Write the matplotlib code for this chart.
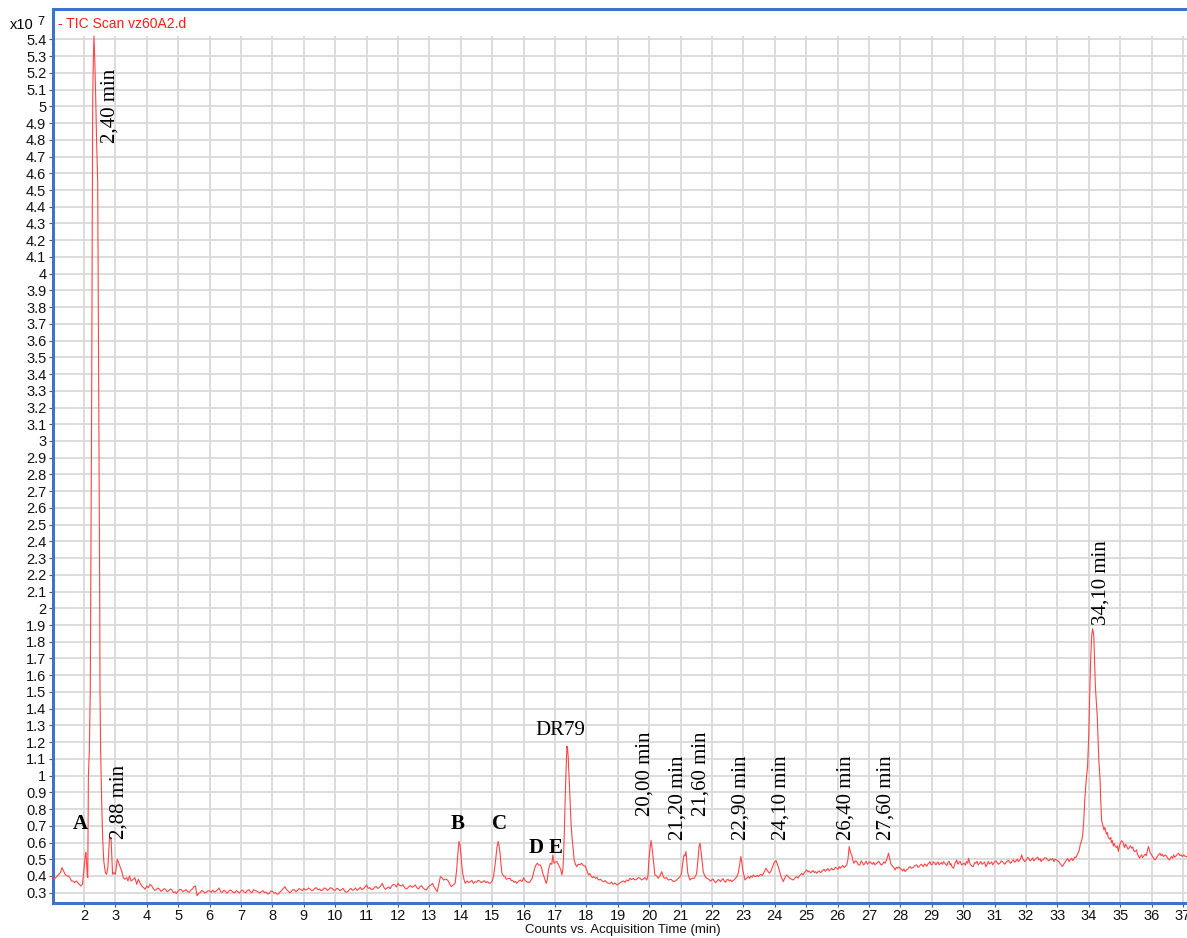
import numpy as np
import matplotlib
matplotlib.use("Agg")
import matplotlib.pyplot as plt
from matplotlib.ticker import FixedLocator, FuncFormatter

# TIC trace, retention time (min) vs counts (x10^7), split into time windows
front_1_4 = [
    (1.00, 0.40), (1.05, 0.38), (1.10, 0.39), (1.15, 0.40), (1.20, 0.41), (1.25, 0.42),
    (1.30, 0.45), (1.35, 0.43), (1.40, 0.41), (1.45, 0.40), (1.50, 0.40), (1.55, 0.39),
    (1.60, 0.37), (1.65, 0.37), (1.70, 0.36), (1.75, 0.37), (1.80, 0.36), (1.85, 0.35),
    (1.90, 0.34), (1.95, 0.35), (2.00, 0.44), (2.04, 0.52), (2.06, 0.54), (2.08, 0.49),
    (2.10, 0.41), (2.12, 0.39), (2.14, 1.00), (2.17, 1.15), (2.20, 1.50), (2.22, 2.30),
    (2.245, 3.30), (2.277, 5.05), (2.30, 5.30), (2.318, 5.42), (2.34, 5.30), (2.373, 5.05),
    (2.40, 4.80), (2.436, 4.55), (2.468, 3.36), (2.50, 2.08), (2.51, 1.50), (2.53, 1.15),
    (2.56, 0.87), (2.595, 0.62), (2.63, 0.49), (2.68, 0.42), (2.72, 0.41), (2.76, 0.45),
    (2.81, 0.62), (2.86, 0.63), (2.89, 0.50), (2.91, 0.41), (2.95, 0.42), (3.00, 0.41),
    (3.06, 0.50), (3.12, 0.47), (3.16, 0.45), (3.20, 0.43), (3.25, 0.39), (3.30, 0.38),
    (3.36, 0.39), (3.40, 0.37), (3.45, 0.40), (3.50, 0.37), (3.57, 0.38), (3.62, 0.39),
    (3.68, 0.35), (3.73, 0.38), (3.78, 0.36), (3.84, 0.34), (3.90, 0.33), (3.94, 0.32),
    (4.00, 0.34), (4.05, 0.33), (4.10, 0.35), (4.16, 0.34),
]

baseline_4_13 = [
    (4.20, 0.326), (4.25, 0.314), (4.30, 0.318), (4.35, 0.328), (4.40, 0.322), (4.45, 0.308),
    (4.50, 0.314), (4.55, 0.324), (4.60, 0.320), (4.65, 0.306), (4.70, 0.312), (4.75, 0.322),
    (4.80, 0.316), (4.85, 0.300), (4.90, 0.305), (4.95, 0.296), (5.00, 0.310), (5.05, 0.320),
    (5.10, 0.318), (5.15, 0.306), (5.20, 0.312), (5.25, 0.318), (5.30, 0.308), (5.35, 0.302),
    (5.40, 0.315), (5.45, 0.322), (5.50, 0.336), (5.55, 0.340), (5.60, 0.282), (5.65, 0.296),
    (5.70, 0.300), (5.75, 0.314), (5.80, 0.308), (5.85, 0.298), (5.90, 0.304), (5.95, 0.312),
    (6.00, 0.310), (6.05, 0.302), (6.10, 0.316), (6.15, 0.304), (6.20, 0.308), (6.25, 0.318),
    (6.30, 0.328), (6.35, 0.306), (6.40, 0.302), (6.45, 0.314), (6.50, 0.310), (6.55, 0.298),
    (6.60, 0.306), (6.65, 0.316), (6.70, 0.312), (6.75, 0.302), (6.80, 0.300), (6.85, 0.312),
    (6.90, 0.306), (6.95, 0.298), (7.00, 0.310), (7.05, 0.316), (7.10, 0.304), (7.15, 0.300),
    (7.20, 0.312), (7.25, 0.318), (7.30, 0.306), (7.35, 0.300), (7.40, 0.318), (7.45, 0.312),
    (7.50, 0.310), (7.55, 0.304), (7.60, 0.298), (7.65, 0.308), (7.70, 0.312), (7.75, 0.300),
    (7.80, 0.304), (7.85, 0.292), (7.90, 0.296), (7.95, 0.310), (8.00, 0.308), (8.05, 0.298),
    (8.10, 0.300), (8.15, 0.290), (8.20, 0.294), (8.25, 0.306), (8.30, 0.314), (8.35, 0.326),
    (8.40, 0.336), (8.45, 0.318), (8.50, 0.310), (8.55, 0.300), (8.60, 0.306), (8.65, 0.318),
    (8.70, 0.318), (8.75, 0.306), (8.80, 0.314), (8.85, 0.324), (8.90, 0.320), (8.95, 0.312),
    (9.00, 0.326), (9.05, 0.316), (9.10, 0.318), (9.15, 0.328), (9.20, 0.322), (9.25, 0.312),
    (9.30, 0.316), (9.35, 0.326), (9.40, 0.330), (9.45, 0.318), (9.50, 0.322), (9.55, 0.312),
    (9.60, 0.316), (9.65, 0.328), (9.70, 0.326), (9.75, 0.314), (9.80, 0.320), (9.85, 0.330),
    (9.90, 0.326), (9.95, 0.316), (10.00, 0.314), (10.05, 0.326), (10.10, 0.322), (10.15, 0.312),
    (10.20, 0.318), (10.25, 0.326), (10.30, 0.310), (10.35, 0.302), (10.40, 0.306), (10.45, 0.318),
    (10.50, 0.326), (10.55, 0.314), (10.60, 0.318), (10.65, 0.328), (10.70, 0.314), (10.75, 0.322),
    (10.80, 0.332), (10.85, 0.318), (10.90, 0.324), (10.95, 0.334), (11.00, 0.346), (11.05, 0.326),
    (11.10, 0.330), (11.15, 0.320), (11.20, 0.320), (11.25, 0.332), (11.30, 0.338), (11.35, 0.326),
    (11.40, 0.330), (11.45, 0.340), (11.50, 0.356), (11.55, 0.332), (11.60, 0.320), (11.65, 0.328),
    (11.70, 0.334), (11.75, 0.324), (11.80, 0.340), (11.85, 0.350), (11.90, 0.346), (11.95, 0.334),
    (12.00, 0.356), (12.05, 0.344), (12.10, 0.340), (12.15, 0.348), (12.20, 0.334), (12.25, 0.322),
    (12.30, 0.326), (12.35, 0.338), (12.40, 0.342), (12.45, 0.332), (12.50, 0.338), (12.55, 0.346),
    (12.60, 0.330), (12.65, 0.322), (12.70, 0.336), (12.75, 0.342), (12.80, 0.328), (12.85, 0.320),
    (12.90, 0.316), (12.95, 0.330), (13.00, 0.340), (13.05, 0.346), (13.10, 0.356), (13.15, 0.334),
    (13.20, 0.320), (13.25, 0.306),
]

mid_13_20 = [
    (13.30, 0.350), (13.35, 0.396), (13.40, 0.390), (13.45, 0.376), (13.50, 0.380), (13.55, 0.380),
    (13.60, 0.370), (13.65, 0.350), (13.70, 0.336), (13.75, 0.345), (13.82, 0.356), (13.87, 0.440),
    (13.90, 0.520), (13.94, 0.606), (13.97, 0.590), (14.00, 0.536), (14.03, 0.470), (14.06, 0.416),
    (14.10, 0.380), (14.14, 0.356), (14.20, 0.370), (14.25, 0.360), (14.30, 0.366), (14.35, 0.374),
    (14.40, 0.356), (14.45, 0.366), (14.50, 0.362), (14.55, 0.374), (14.60, 0.370), (14.65, 0.360),
    (14.70, 0.366), (14.75, 0.372), (14.80, 0.360), (14.85, 0.366), (14.90, 0.356), (14.95, 0.358),
    (15.00, 0.370), (15.04, 0.396), (15.08, 0.450), (15.11, 0.496), (15.15, 0.570), (15.19, 0.606),
    (15.22, 0.580), (15.25, 0.536), (15.28, 0.470), (15.31, 0.416), (15.36, 0.400), (15.41, 0.396),
    (15.45, 0.380), (15.50, 0.384), (15.57, 0.386), (15.61, 0.372), (15.65, 0.374), (15.70, 0.362),
    (15.74, 0.368), (15.78, 0.356), (15.85, 0.370), (15.90, 0.376), (15.95, 0.366), (16.00, 0.390),
    (16.05, 0.372), (16.10, 0.366), (16.15, 0.360), (16.21, 0.366), (16.28, 0.390), (16.33, 0.430),
    (16.37, 0.456), (16.41, 0.470), (16.44, 0.476), (16.48, 0.465), (16.53, 0.466), (16.57, 0.450),
    (16.61, 0.416), (16.66, 0.390), (16.72, 0.356), (16.76, 0.380), (16.79, 0.436), (16.85, 0.476),
    (16.90, 0.470), (16.93, 0.526), (16.97, 0.476), (17.02, 0.484), (17.06, 0.486), (17.10, 0.470),
    (17.14, 0.456), (17.18, 0.440), (17.22, 0.406), (17.25, 0.440), (17.27, 0.496), (17.30, 0.680),
    (17.32, 0.836), (17.35, 1.020), (17.38, 1.176), (17.40, 1.160), (17.42, 1.116), (17.45, 0.980),
    (17.48, 0.836), (17.51, 0.720), (17.54, 0.636), (17.58, 0.560), (17.61, 0.496), (17.65, 0.470),
    (17.69, 0.456), (17.74, 0.470), (17.80, 0.468), (17.85, 0.476), (17.90, 0.462), (17.96, 0.460),
    (18.00, 0.440), (18.07, 0.406), (18.11, 0.414), (18.15, 0.400), (18.19, 0.390), (18.23, 0.396),
    (18.30, 0.386), (18.34, 0.392), (18.38, 0.376), (18.45, 0.380), (18.50, 0.370), (18.54, 0.366),
    (18.60, 0.372), (18.65, 0.360), (18.70, 0.356), (18.76, 0.356), (18.80, 0.364), (18.85, 0.350),
    (18.91, 0.358), (18.97, 0.346), (19.05, 0.356), (19.12, 0.366), (19.18, 0.370), (19.23, 0.362),
    (19.28, 0.376), (19.34, 0.370), (19.39, 0.386), (19.44, 0.378), (19.49, 0.386), (19.55, 0.376),
    (19.60, 0.380), (19.66, 0.390), (19.71, 0.386), (19.76, 0.376), (19.80, 0.380), (19.86, 0.390),
    (19.92, 0.376),
]

late_20_34 = [
    (19.96, 0.400), (19.99, 0.496), (20.03, 0.570), (20.06, 0.612), (20.09, 0.570), (20.11, 0.536),
    (20.15, 0.460), (20.18, 0.406), (20.24, 0.400), (20.29, 0.386), (20.35, 0.405), (20.40, 0.426),
    (20.44, 0.400), (20.48, 0.386), (20.55, 0.390), (20.61, 0.376), (20.70, 0.380), (20.77, 0.366),
    (20.85, 0.372), (20.93, 0.386), (21.00, 0.400), (21.03, 0.416), (21.07, 0.480), (21.11, 0.526),
    (21.14, 0.520), (21.17, 0.546), (21.20, 0.480), (21.23, 0.416), (21.27, 0.390), (21.30, 0.376),
    (21.36, 0.386), (21.43, 0.386), (21.48, 0.400), (21.51, 0.416), (21.54, 0.470), (21.56, 0.516),
    (21.59, 0.580), (21.62, 0.596), (21.65, 0.550), (21.67, 0.516), (21.70, 0.460), (21.72, 0.426),
    (21.77, 0.400), (21.83, 0.386), (21.90, 0.380), (21.95, 0.368), (21.99, 0.376), (22.03, 0.382),
    (22.07, 0.370), (22.11, 0.360), (22.15, 0.366), (22.19, 0.378), (22.23, 0.376), (22.27, 0.366),
    (22.31, 0.376), (22.35, 0.384), (22.39, 0.370), (22.43, 0.362), (22.47, 0.376), (22.51, 0.380),
    (22.55, 0.370), (22.59, 0.376), (22.63, 0.366), (22.68, 0.374), (22.72, 0.380), (22.79, 0.396),
    (22.84, 0.420), (22.87, 0.456), (22.92, 0.516), (22.95, 0.480), (22.98, 0.436), (23.02, 0.400),
    (23.05, 0.376), (23.10, 0.386), (23.16, 0.396), (23.20, 0.386), (23.24, 0.400), (23.28, 0.392),
    (23.32, 0.406), (23.36, 0.398), (23.40, 0.396), (23.44, 0.404), (23.48, 0.396), (23.52, 0.406),
    (23.56, 0.410), (23.60, 0.402), (23.64, 0.416), (23.68, 0.430), (23.72, 0.446), (23.77, 0.430),
    (23.83, 0.416), (23.88, 0.430), (23.93, 0.456), (23.98, 0.480), (24.04, 0.492), (24.08, 0.470),
    (24.11, 0.456), (24.15, 0.430), (24.20, 0.396), (24.24, 0.380), (24.27, 0.366), (24.32, 0.390),
    (24.38, 0.406), (24.43, 0.396), (24.48, 0.386), (24.54, 0.380), (24.59, 0.376), (24.65, 0.390),
    (24.70, 0.396), (24.74, 0.388), (24.78, 0.400), (24.82, 0.408), (24.86, 0.416), (24.90, 0.406),
    (24.94, 0.420), (24.98, 0.428), (25.02, 0.436), (25.06, 0.424), (25.10, 0.430), (25.14, 0.418),
    (25.18, 0.426), (25.22, 0.432), (25.26, 0.420), (25.30, 0.426), (25.33, 0.416), (25.37, 0.424),
    (25.41, 0.430), (25.45, 0.420), (25.49, 0.426), (25.53, 0.434), (25.57, 0.440), (25.61, 0.428),
    (25.65, 0.436), (25.69, 0.444), (25.73, 0.430), (25.77, 0.438), (25.81, 0.446), (25.85, 0.436),
    (25.89, 0.440), (25.93, 0.452), (25.97, 0.446), (26.01, 0.440), (26.05, 0.456), (26.09, 0.446),
    (26.13, 0.456), (26.17, 0.462), (26.21, 0.450), (26.25, 0.458), (26.29, 0.466), (26.33, 0.500),
    (26.37, 0.576), (26.41, 0.540), (26.45, 0.526), (26.49, 0.490), (26.52, 0.476), (26.56, 0.490),
    (26.61, 0.486), (26.66, 0.466), (26.71, 0.466), (26.75, 0.490), (26.79, 0.480), (26.83, 0.466),
    (26.87, 0.476), (26.91, 0.488), (26.95, 0.470), (26.99, 0.478), (27.03, 0.486), (27.07, 0.476),
    (27.11, 0.470), (27.15, 0.482), (27.19, 0.466), (27.23, 0.474), (27.27, 0.480), (27.31, 0.488),
    (27.35, 0.476), (27.39, 0.466), (27.43, 0.470), (27.47, 0.484), (27.51, 0.476), (27.57, 0.500),
    (27.62, 0.536), (27.66, 0.500), (27.69, 0.476), (27.72, 0.466), (27.76, 0.456), (27.80, 0.448),
    (27.83, 0.436), (27.87, 0.452), (27.91, 0.446), (27.95, 0.454), (27.99, 0.446), (28.03, 0.440),
    (28.07, 0.430), (28.11, 0.442), (28.15, 0.426), (28.19, 0.436), (28.23, 0.440), (28.27, 0.450),
    (28.31, 0.456), (28.35, 0.446), (28.40, 0.450), (28.46, 0.462), (28.52, 0.466), (28.56, 0.452),
    (28.60, 0.456), (28.64, 0.466), (28.67, 0.470), (28.70, 0.462), (28.73, 0.456), (28.77, 0.472),
    (28.80, 0.466), (28.84, 0.458), (28.87, 0.470), (28.91, 0.478), (28.94, 0.486), (28.98, 0.466),
    (29.02, 0.470), (29.05, 0.484), (29.09, 0.480), (29.13, 0.466), (29.16, 0.476), (29.20, 0.484),
    (29.23, 0.466), (29.27, 0.474), (29.30, 0.480), (29.34, 0.470), (29.37, 0.486), (29.41, 0.478),
    (29.44, 0.470), (29.48, 0.462), (29.51, 0.480), (29.55, 0.488), (29.58, 0.466), (29.61, 0.474),
    (29.64, 0.456), (29.69, 0.446), (29.74, 0.476), (29.79, 0.496), (29.83, 0.470), (29.86, 0.480),
    (29.90, 0.488), (29.95, 0.466), (29.99, 0.472), (30.03, 0.476), (30.07, 0.464), (30.10, 0.486),
    (30.14, 0.476), (30.17, 0.506), (30.22, 0.470), (30.27, 0.460), (30.32, 0.456), (30.36, 0.480),
    (30.40, 0.476), (30.44, 0.488), (30.48, 0.466), (30.52, 0.476), (30.56, 0.486), (30.60, 0.470),
    (30.64, 0.476), (30.68, 0.484), (30.72, 0.456), (30.76, 0.470), (30.80, 0.486), (30.84, 0.472),
    (30.87, 0.476), (30.91, 0.484), (30.94, 0.466), (30.98, 0.478), (31.01, 0.486), (31.05, 0.490),
    (31.08, 0.480), (31.12, 0.470), (31.17, 0.476), (31.21, 0.490), (31.25, 0.486), (31.29, 0.478),
    (31.32, 0.470), (31.36, 0.480), (31.39, 0.486), (31.43, 0.494), (31.46, 0.490), (31.50, 0.476),
    (31.53, 0.480), (31.57, 0.492), (31.60, 0.496), (31.64, 0.482), (31.68, 0.490), (31.72, 0.500),
    (31.76, 0.486), (31.82, 0.500), (31.86, 0.526), (31.89, 0.506), (31.92, 0.496), (31.96, 0.486),
    (32.01, 0.496), (32.05, 0.510), (32.09, 0.506), (32.13, 0.490), (32.17, 0.496), (32.21, 0.508),
    (32.25, 0.490), (32.29, 0.500), (32.33, 0.506), (32.37, 0.512), (32.41, 0.496), (32.45, 0.504),
    (32.48, 0.486), (32.52, 0.498), (32.55, 0.496), (32.60, 0.510), (32.65, 0.506), (32.69, 0.496),
    (32.73, 0.490), (32.77, 0.502), (32.81, 0.496), (32.85, 0.504), (32.89, 0.486), (32.93, 0.500),
    (32.97, 0.496), (33.01, 0.490), (33.05, 0.486), (33.10, 0.470), (33.16, 0.456), (33.22, 0.476),
    (33.26, 0.486), (33.29, 0.496), (33.33, 0.504), (33.37, 0.486), (33.41, 0.498), (33.45, 0.506),
    (33.49, 0.492), (33.52, 0.500), (33.56, 0.514), (33.59, 0.510),
]

tail_34_37 = [
    (33.64, 0.530), (33.69, 0.550), (33.73, 0.590), (33.77, 0.610), (33.80, 0.636), (33.84, 0.730),
    (33.87, 0.850), (33.90, 0.930), (33.93, 1.000), (33.96, 1.050), (34.00, 1.250), (34.03, 1.490),
    (34.06, 1.700), (34.09, 1.830), (34.12, 1.877), (34.14, 1.860), (34.16, 1.830), (34.18, 1.710),
    (34.21, 1.530), (34.24, 1.440), (34.27, 1.350), (34.30, 1.200), (34.32, 1.090), (34.36, 0.970),
    (34.38, 0.850), (34.41, 0.730), (34.45, 0.700), (34.48, 0.676), (34.51, 0.690), (34.56, 0.650),
    (34.59, 0.660), (34.62, 0.630), (34.67, 0.620), (34.70, 0.630), (34.72, 0.600), (34.75, 0.612),
    (34.78, 0.580), (34.81, 0.594), (34.84, 0.576), (34.88, 0.570), (34.91, 0.580), (34.94, 0.546),
    (34.99, 0.590), (35.04, 0.610), (35.08, 0.606), (35.11, 0.584), (35.14, 0.570), (35.17, 0.590),
    (35.21, 0.576), (35.25, 0.560), (35.28, 0.566), (35.32, 0.580), (35.37, 0.566), (35.40, 0.574),
    (35.43, 0.550), (35.48, 0.546), (35.52, 0.556), (35.55, 0.530), (35.58, 0.520), (35.62, 0.506),
    (35.65, 0.520), (35.68, 0.526), (35.71, 0.510), (35.74, 0.516), (35.77, 0.526), (35.80, 0.530),
    (35.83, 0.520), (35.86, 0.546), (35.90, 0.576), (35.95, 0.540), (36.00, 0.526), (36.05, 0.510),
    (36.08, 0.500), (36.11, 0.496), (36.15, 0.506), (36.18, 0.516), (36.22, 0.526), (36.27, 0.536),
    (36.31, 0.520), (36.34, 0.530), (36.38, 0.516), (36.43, 0.526), (36.47, 0.520), (36.50, 0.510),
    (36.54, 0.500), (36.57, 0.496), (36.60, 0.506), (36.63, 0.516), (36.67, 0.506), (36.70, 0.526),
    (36.74, 0.512), (36.78, 0.520), (36.82, 0.530), (36.86, 0.536), (36.90, 0.522), (36.94, 0.526),
    (36.98, 0.516), (37.02, 0.526), (37.08, 0.516), (37.13, 0.516), (37.20, 0.520),
]

# Axis ticks
x_ticks = list(range(2, 38))
y_ticks = [round(0.3 + 0.1 * i, 1) for i in range(52)]  # 0.3 ... 5.4

# Peak labels: (text, x, y, rotation, weight)
peak_labels = [
    ("2,40 min", 2.83, 4.78, 90, "normal"),
    ("2,88 min", 3.12, 0.62, 90, "normal"),
    ("A", 1.87, 0.681, 0, "bold"),
    ("B", 13.91, 0.681, 0, "bold"),
    ("C", 15.22, 0.681, 0, "bold"),
    ("D", 16.39, 0.538, 0, "bold"),
    ("E", 17.03, 0.538, 0, "bold"),
    ("DR79", 17.16, 1.243, 0, "normal"),
    ("20,00 min", 19.87, 0.758, 90, "normal"),
    ("21,20 min", 20.92, 0.615, 90, "normal"),
    ("21,60 min", 21.65, 0.758, 90, "normal"),
    ("22,90 min", 22.92, 0.615, 90, "normal"),
    ("24,10 min", 24.20, 0.615, 90, "normal"),
    ("26,40 min", 26.27, 0.615, 90, "normal"),
    ("27,60 min", 27.54, 0.615, 90, "normal"),
    ("34,10 min", 34.39, 1.900, 90, "normal"),
]

trace = np.array(front_1_4 + baseline_4_13 + mid_13_20 + late_20_34 + tail_34_37)
rt_min, tic_1e7 = trace[:, 0], trace[:, 1]

W, H = 1187, 938
fig = plt.figure(figsize=(W / 100, H / 100), dpi=100)
fig.patch.set_facecolor("white")

ax_l, ax_b = 52.6 / W, (H - 902.5) / H
ax_w, ax_h = 1146.1 / W, (902.5 - 9) / H
ax = fig.add_axes([ax_l, ax_b, ax_w, ax_h])
ax.set_xlim(1.0, 37.5)
ax.set_ylim(0.2414, 5.582)

frame_blue = "#3f72c9"
for side in ("left", "bottom", "top", "right"):
    ax.spines[side].set_color(frame_blue)
    ax.spines[side].set_linewidth(2.2)

grid_c = "#d9d9d9"
for yv in y_ticks:
    ax.axhline(yv, color=grid_c, lw=1.3, zorder=1)
ax.vlines(x_ticks, 0.2414, 5.42, color=grid_c, lw=1.3, zorder=1)

ax.plot(rt_min, tic_1e7, color="#ff4545", lw=0.8, zorder=3)

sans = ["Liberation Sans", "DejaVu Sans"]
ax.xaxis.set_major_locator(FixedLocator(x_ticks))
ax.yaxis.set_major_locator(FixedLocator(y_ticks))
ax.yaxis.set_major_formatter(FuncFormatter(lambda v, p: f"{v:g}"))
ax.tick_params(axis="both", direction="out", length=3, width=0.8, color="#555555",
               labelcolor="#111111", pad=1.5)
for lab in ax.get_xticklabels() + ax.get_yticklabels():
    lab.set_fontfamily(sans)
    lab.set_fontsize(10.5)

serif = ["Liberation Serif", "DejaVu Serif"]
for text, x, y, rot, weight in peak_labels:
    if rot:
        ax.text(x, y, text, rotation=90, ha="center", va="bottom", fontsize=15,
                family=serif, fontweight=weight, color="black", zorder=4)
    else:
        ax.text(x, y, text, ha="center", va="baseline", fontsize=15,
                family=serif, fontweight=weight, color="black", zorder=4)

fig.text(10 / W, 1 - 29 / H, "x10", fontsize=10.5, family=sans, va="baseline", ha="left")
fig.text(37 / W, 1 - 25 / H, "7", fontsize=9, family=sans, va="baseline", ha="left")
fig.text(58 / W, 1 - 24 / H, "- TIC Scan vz60A2.d", fontsize=10, family=sans,
         color="#ff1a1a", va="center", ha="left")
fig.text(623 / W, 1 - 930 / H, "Counts vs. Acquisition Time (min)", fontsize=9.5,
         family=sans, va="center", ha="center", color="#111111")

fig.savefig("out.png", dpi=100, facecolor="white")
